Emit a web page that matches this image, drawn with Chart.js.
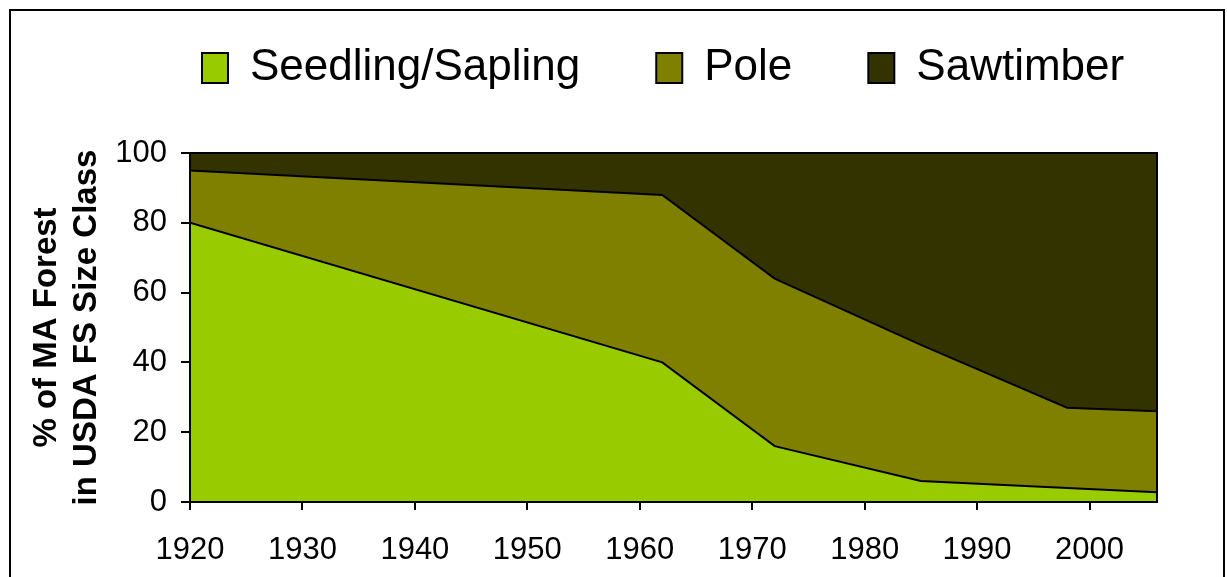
<!DOCTYPE html>
<html>
<head>
<meta charset="utf-8">
<script src="https://cdn.jsdelivr.net/npm/chart.js@4.4.1/dist/chart.umd.min.js"></script>
<style>
    html, body { margin: 0; padding: 0; background: #fff; }
    #wrap { position: relative; width: 1227px; height: 577px; overflow: hidden; }
    #frame { position: absolute; left: 9px; top: 9px; width: 1216px; height: 620px; border: 2px solid #000; box-sizing: border-box; }
    #c { position: absolute; left: 0; top: 0; }
</style>
</head>
<body>
<div id="wrap">
    <div id="frame"></div>
    <canvas id="c" width="1227" height="577"></canvas>
</div>
<script>
// годы обследования и доли классов (%)
let years = [1920, 1962, 1972, 1985, 1998, 2006];
let seedling = [80, 40, 16, 6, 4, 2.8];
let pole = [15, 48, 48, 39, 23, 23.2];
let sawtimber = [5, 12, 36, 55, 73, 74];

let series_names = ["Seedling/Sapling", "Pole", "Sawtimber"];
let series_colors = ["#99CC00", "#808000", "#333300"];

let x_ticks = [1920, 1930, 1940, 1950, 1960, 1970, 1980, 1990, 2000];
let y_ticks = [0, 20, 40, 60, 80, 100];
let y_title = ["% of MA Forest", "in USDA FS Size Class"];

const FONT = "'Liberation Sans', Arial, sans-serif";

function toPoints(values) {
    return values.map((v, i) => ({x: years[i], y: v}));
}

function makeDataset(idx, values, fill) {
    return {
        label: series_names[idx],
        data: toPoints(values),
        backgroundColor: series_colors[idx],
        borderColor: "#000000",
        borderWidth: 2,
        pointRadius: 0,
        pointHoverRadius: 0,
        tension: 0,
        fill: fill
    };
}

// рамка вокруг области графика
const plotFrame = {
    id: 'plotFrame',
    afterDatasetsDraw(chart) {
        const a = chart.chartArea;
        const ctx = chart.ctx;
        ctx.save();
        ctx.strokeStyle = "#000";
        ctx.lineWidth = 2;
        ctx.strokeRect(a.left, a.top, a.right - a.left, a.bottom - a.top);
        ctx.restore();
    }
};

// легенда: фиксированная высота и положение
const legendPlace = {
    id: 'legendPlace',
    beforeLayout(chart) {
        const lg = chart.legend;
        if (lg && !lg._patched) {
            const fit = lg.fit;
            lg.fit = function () {
                fit.call(this);
                this.height = 143;
            };
            lg._patched = true;
        }
    },
    afterLayout(chart) {
        const lg = chart.legend;
        lg.left = 126;
        lg.right = 1227;
        lg.top = -30;
    }
};

const ctx = document.getElementById('c').getContext('2d');
const areaChart = new Chart(ctx, {
    type: 'line',
    data: {
        datasets: [
            makeDataset(0, seedling, 'origin'),
            makeDataset(1, pole, '-1'),
            makeDataset(2, sawtimber, '-1')
        ]
    },
    options: {
        responsive: false,
        animation: false,
        devicePixelRatio: 1,
        layout: {
            padding: {left: 10, right: 70, top: 10, bottom: 0}
        },
        interaction: {mode: 'index', intersect: false},
        plugins: {
            tooltip: {enabled: false},
            legend: {
                display: true,
                position: 'top',
                align: 'start',
                labels: {
                    color: "#000",
                    boxWidth: 26,
                    boxHeight: 30,
                    padding: 76,
                    font: {family: FONT, size: 44}
                }
            }
        },
        scales: {
            x: {
                type: 'linear',
                min: years[0],
                max: years[years.length - 1],
                afterBuildTicks: function (scale) {
                    scale.ticks = x_ticks.map(v => ({value: v}));
                },
                afterFit: function (scale) {
                    scale.height = 75;
                },
                ticks: {
                    color: "#000",
                    padding: 22,
                    maxRotation: 0,
                    autoSkip: false,
                    font: {family: FONT, size: 31},
                    callback: function (value) {
                        return String(value);
                    }
                },
                grid: {
                    display: true,
                    drawOnChartArea: false,
                    drawTicks: true,
                    tickLength: 8,
                    color: "#000",
                    lineWidth: 2
                },
                border: {display: true, color: "#000", width: 2}
            },
            y: {
                stacked: true,
                min: 0,
                max: 100,
                afterBuildTicks: function (scale) {
                    scale.ticks = y_ticks.map(v => ({value: v}));
                },
                afterFit: function (scale) {
                    scale.width = 180;
                },
                ticks: {
                    color: "#000",
                    padding: 14,
                    font: {family: FONT, size: 31}
                },
                grid: {
                    display: true,
                    drawOnChartArea: false,
                    drawTicks: true,
                    tickLength: 9,
                    color: "#000",
                    lineWidth: 2
                },
                border: {display: true, color: "#000", width: 2},
                title: {
                    display: true,
                    text: y_title,
                    color: "#000",
                    padding: {top: 17, bottom: 0},
                    font: {family: FONT, size: 33, weight: 'bold', lineHeight: '40px'}
                }
            }
        }
    },
    plugins: [plotFrame, legendPlace]
});
</script>
</body>
</html>
